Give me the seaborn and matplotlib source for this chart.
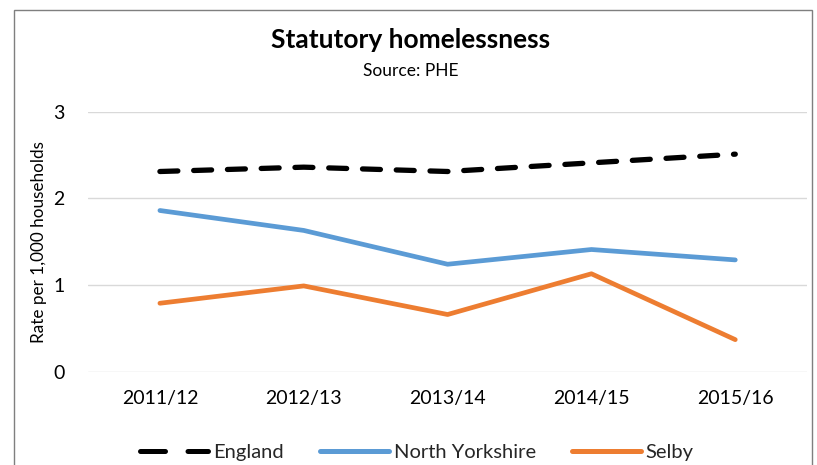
import matplotlib
matplotlib.use("Agg")
import matplotlib.pyplot as plt
import seaborn as sns
import pandas as pd
from matplotlib.patches import Rectangle
from matplotlib.lines import Line2D

years = ["2011/12", "2012/13", "2013/14", "2014/15", "2015/16"]
england = [2.31, 2.36, 2.31, 2.41, 2.51]
north_yorkshire = [1.86, 1.63, 1.24, 1.41, 1.29]
selby = [0.79, 0.99, 0.66, 1.13, 0.37]
series_names = ["England", "North Yorkshire", "Selby"]
colors = {"England": "#000000", "North Yorkshire": "#5B9BD5", "Selby": "#ED7D31"}

rows = []
for name, vals in zip(series_names, [england, north_yorkshire, selby]):
    for i, (y, v) in enumerate(zip(years, vals)):
        rows.append({"idx": i, "year": y, "value": v, "series": name})
df = pd.DataFrame(rows)

sns.set_theme(style="white")
plt.rcParams['font.family'] = ['Lato', 'DejaVu Sans']

fig = plt.figure(figsize=(8.17, 4.65), dpi=100)
ax = fig.add_axes([0.1077, 0.2006, 0.8803, 0.5592])

sns.lineplot(data=df, x="idx", y="value", hue="series", style="series",
             palette=colors, dashes={"England": (3.4, 3.0), "North Yorkshire": "", "Selby": ""},
             linewidth=3.4, ax=ax, legend=False, sort=False)
for ln in ax.get_lines():
    ln.set_solid_capstyle("round")
    ln.set_dash_capstyle("round")
ax.get_lines()[0].set_linewidth(3.8)

ax.set_xlim(-0.5, 4.5)
ax.set_ylim(0, 3)
ax.set_yticks([0, 1, 2, 3])
ax.set_xticks(range(5))
ax.set_xticklabels(years)
ax.grid(axis="y", color="#D9D9D9", linewidth=1)
ax.set_axisbelow(True)
for s in ax.spines.values():
    s.set_visible(False)
ax.tick_params(axis="both", length=0, labelsize=14, colors="#000000")
ax.tick_params(axis="x", pad=13)
ax.tick_params(axis="y", pad=17)
ax.set_xlabel("")
ax.set_ylabel("Rate per 1,000 households", fontsize=12.3, color="#000000", labelpad=4)

fig.text(0.503, 0.914, "Statutory homelessness", ha="center", va="center",
         fontsize=19, fontweight="bold", color="#000000")
fig.text(0.503, 0.848, "Source: PHE", ha="center", va="center", fontsize=12.5, color="#000000")

handles = [Line2D([0], [0], color=colors[n], linewidth=3.6,
                  linestyle=(0, (5.0, 4.5)) if n == "England" else "-",
                  dash_capstyle="round", solid_capstyle="round") for n in series_names]
fig.legend(handles, series_names, loc="center", bbox_to_anchor=(0.51, 0.027), ncol=3,
           frameon=False, fontsize=14.5, handlelength=3.4, columnspacing=1.8, handletextpad=0.25)

fig.add_artist(Rectangle((14 / 817, -0.05), (812 - 14) / 817, 1 - 10 / 465 + 0.05,
                         transform=fig.transFigure, fill=False, edgecolor="#7F7F7F", linewidth=1))

fig.savefig("out.png", dpi=100)
